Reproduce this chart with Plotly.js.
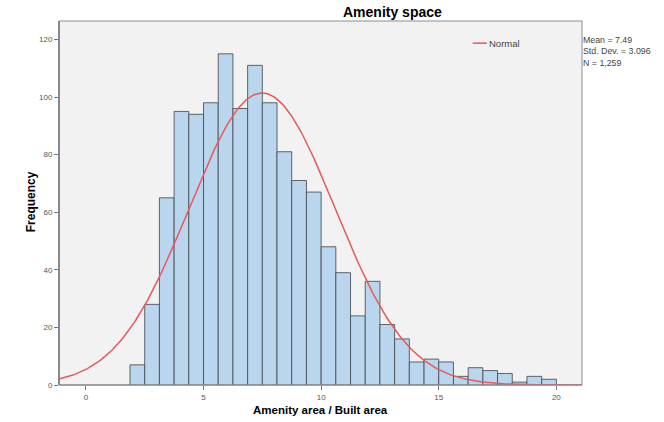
<!DOCTYPE html>
<html>
<head>
<meta charset="utf-8">
<script src="https://cdn.plot.ly/plotly-3.0.1.min.js"></script>
<style>
  html, body { margin: 0; padding: 0; background: #ffffff; }
  #chart { width: 664px; height: 422px; }
</style>
</head>
<body>
<div id="chart"></div>
<script>
// Histogram of amenity area / built area, with fitted normal curve
const binStart = 1.875;
const binWidth = 0.625;
const counts = [7, 28, 65, 95, 94, 98, 115, 96, 111, 98, 81, 71, 67, 48, 39,
                24, 36, 21, 16, 8, 9, 8, 3, 6, 5, 4, 1, 3, 2];

const mean = 7.49;
const stdDev = 3.096;
const n = 1259;

const xTicks = [0, 5, 10, 15, 20];
const yTicks = [0, 20, 40, 60, 80, 100, 120];

const xRange = [-1.144, 21.09];
const yRange = [0, 126.4];

// bin centres from the bin layout
const centers = counts.map((_, i) => binStart + binWidth * (i + 0.5));

// normal density scaled to counts per bin
const curveX = [];
const curveY = [];
const steps = 300;
for (let i = 0; i <= steps; i++) {
  const x = xRange[0] + (xRange[1] - xRange[0]) * i / steps;
  const z = (x - mean) / stdDev;
  curveX.push(x);
  curveY.push(n * binWidth / (stdDev * Math.sqrt(2 * Math.PI)) * Math.exp(-0.5 * z * z));
}

const font = "Liberation Sans, Arial, sans-serif";

const bars = {
  type: 'bar',
  x: centers,
  y: counts,
  width: binWidth,
  marker: {
    color: '#bad6ee',
    line: { color: 'rgba(70,75,80,0.85)', width: 1 }
  },
  hoverinfo: 'x+y',
  showlegend: false
};

const normal = {
  type: 'scatter',
  mode: 'lines',
  x: curveX,
  y: curveY,
  line: { color: '#e8595b', width: 1.5 },
  name: 'Normal',
  showlegend: false
};

const layout = {
  width: 664,
  height: 422,
  margin: { l: 59, r: 82, t: 21, b: 37 },
  paper_bgcolor: '#ffffff',
  plot_bgcolor: '#f2f2f2',
  font: { family: font, color: '#555555', size: 8 },
  bargap: 0,
  xaxis: {
    range: xRange,
    tickvals: xTicks,
    ticktext: xTicks.map(String),
    ticks: 'outside',
    ticklen: 4,
    tickcolor: '#777777',
    tickfont: { size: 8, color: '#555555' },
    showgrid: false,
    zeroline: false,
    showline: false,
    fixedrange: true
  },
  yaxis: {
    range: yRange,
    tickvals: yTicks,
    ticktext: yTicks.map(String),
    ticks: 'outside',
    ticklen: 4,
    tickcolor: '#777777',
    tickfont: { size: 8, color: '#555555' },
    showgrid: false,
    zeroline: false,
    showline: false,
    fixedrange: true
  },
  shapes: [
    // frame around the plotting area
    { type: 'rect', xref: 'paper', yref: 'paper', x0: 0, x1: 1, y0: 0, y1: 1,
      line: { color: '#8c8c8c', width: 1 }, layer: 'above' },
    // heavier left and bottom axis lines
    { type: 'line', xref: 'paper', yref: 'paper', x0: 0, x1: 0, y0: 0, y1: 1,
      line: { color: '#888888', width: 2 }, layer: 'above' },
    { type: 'line', xref: 'paper', yref: 'paper', x0: 0, x1: 1, y0: 0, y1: 0,
      line: { color: '#777777', width: 1.2 }, layer: 'below' },
    // legend key for the normal curve
    { type: 'line', xref: 'paper', yref: 'paper',
      x0: 0.791, x1: 0.818, y0: 0.939, y1: 0.939,
      line: { color: '#e8595b', width: 1.5 } }
  ],
  annotations: [
    { text: '<b>Amenity space</b>', xref: 'paper', yref: 'paper',
      x: 0.637, y: 1.0, xanchor: 'center', yanchor: 'bottom', yshift: -1,
      showarrow: false, font: { family: font, size: 14, color: '#000000' } },
    { text: 'Normal', xref: 'paper', yref: 'paper',
      x: 0.819, y: 0.939, xanchor: 'left', yanchor: 'middle',
      showarrow: false, font: { family: font, size: 9.5, color: '#444444' } },
    // summary statistics beside the frame
    { text: 'Mean = 7.49<br>Std. Dev. = 3.096<br>N = 1,259',
      xref: 'paper', yref: 'paper',
      x: 1.0, y: 0.965, xanchor: 'left', yanchor: 'top', align: 'left',
      borderpad: 0, showarrow: false,
      font: { family: font, size: 8.8, color: '#444444' } },
    { text: '<b>Frequency</b>', xref: 'paper', yref: 'paper',
      x: -0.0535, y: 0.502, xanchor: 'center', yanchor: 'middle', textangle: -90,
      showarrow: false, font: { family: font, size: 12, color: '#000000' } },
    { text: '<b>Amenity area / Built area</b>', xref: 'paper', yref: 'paper',
      x: 0.5, y: -0.07, xanchor: 'center', yanchor: 'middle',
      showarrow: false, font: { family: font, size: 11.5, color: '#000000' } }
  ]
};

Plotly.newPlot('chart', [bars, normal], layout, { displayModeBar: false, staticPlot: true });
</script>
</body>
</html>
